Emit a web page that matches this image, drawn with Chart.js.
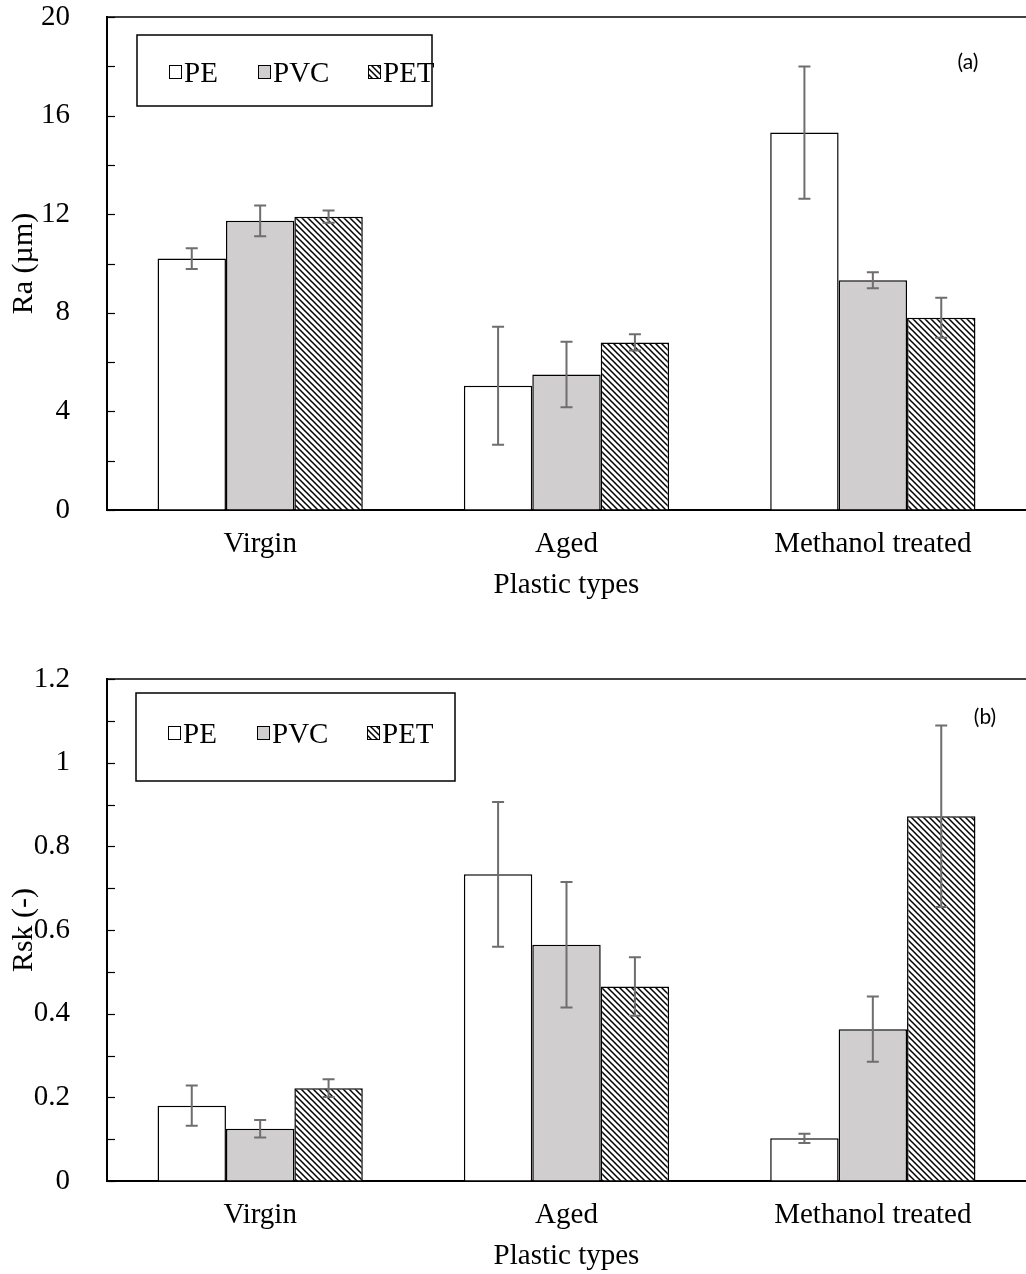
<!doctype html>
<html lang="en">
<head>
<meta charset="UTF-8">
<title>Ra and Rsk by plastic type</title>
<script src="https://cdn.jsdelivr.net/npm/chart.js"></script>
<style>
  html, body { margin: 0; background: #fff; overflow: hidden; }
  .wrap { position: absolute; left: 0; width: 1026px; }
  #top { top: 0; height: 605px; }
  #bottom { top: 662px; height: 614px; }
</style>
</head>
<body>
<div class="wrap" id="top"><canvas id="raChart"></canvas></div>
<div class="wrap" id="bottom"><canvas id="rskChart"></canvas></div>
<script>
  const categories = ['Virgin', 'Aged', 'Methanol treated'];
  const seriesNames = ['PE', 'PVC', 'PET'];

  // (a) Ra, µm
  const raPE = [10.2, 5.04, 15.31];
  const raPEErr = [0.42, 2.39, 2.68];
  const raPVC = [11.73, 5.5, 9.32];
  const raPVCErr = [0.62, 1.33, 0.32];
  const raPET = [11.9, 6.8, 7.8];
  const raPETErr = [0.25, 0.33, 0.81];

  // (b) Rsk, -
  const rskPE = [0.18, 0.733, 0.102];
  const rskPEErr = [0.048, 0.173, 0.011];
  const rskPVC = [0.125, 0.565, 0.363];
  const rskPVCErr = [0.021, 0.15, 0.078];
  const rskPET = [0.222, 0.465, 0.872];
  const rskPETErr = [0.021, 0.07, 0.217];

  const serif = "'Liberation Serif', 'Times New Roman', serif";

  function makeHatch() {
    const c = document.createElement('canvas');
    c.width = 6;
    c.height = 6;
    const g = c.getContext('2d');
    g.fillStyle = '#fff';
    g.fillRect(0, 0, 6, 6);
    g.strokeStyle = '#000';
    g.lineWidth = 1.5;
    g.beginPath();
    g.moveTo(-1, -1); g.lineTo(7, 7);
    g.moveTo(-1, 5); g.lineTo(1, 7);
    g.moveTo(5, -1); g.lineTo(7, 1);
    g.stroke();
    return g.createPattern(c, 'repeat');
  }

  const fills = ['#ffffff', '#d0cece', makeHatch()];

  // error bars, top frame line, inner minor ticks, boxed legend, panel tag
  const extras = {
    id: 'extras',
    afterDatasetsDraw(chart, args, opts) {
      const ctx = chart.ctx;
      const y = chart.scales.y;
      ctx.save();
      ctx.strokeStyle = '#6e6e6e';
      ctx.lineWidth = 2;
      opts.errors.forEach((errs, di) => {
        const meta = chart.getDatasetMeta(di);
        meta.data.forEach((bar, i) => {
          const v = chart.data.datasets[di].data[i];
          const hi = y.getPixelForValue(v + errs[i]);
          const lo = y.getPixelForValue(v - errs[i]);
          ctx.beginPath();
          ctx.moveTo(bar.x, hi); ctx.lineTo(bar.x, lo);
          ctx.moveTo(bar.x - 6, hi); ctx.lineTo(bar.x + 6, hi);
          ctx.moveTo(bar.x - 6, lo); ctx.lineTo(bar.x + 6, lo);
          ctx.stroke();
        });
      });
      ctx.restore();
    },
    afterDraw(chart, args, opts) {
      const ctx = chart.ctx;
      const area = chart.chartArea;
      const y = chart.scales.y;
      ctx.save();
      ctx.strokeStyle = '#000';
      ctx.lineWidth = 1.5;
      ctx.beginPath();
      ctx.moveTo(area.left, area.top);
      ctx.lineTo(area.right, area.top);
      ctx.stroke();

      ctx.lineWidth = 1.2;
      for (let k = 0; k * opts.minorStep <= y.max + 1e-9; k++) {
        const py = Math.round(y.getPixelForValue(k * opts.minorStep)) + 0.5;
        ctx.beginPath();
        ctx.moveTo(area.left, py);
        ctx.lineTo(area.left + 8, py);
        ctx.stroke();
      }

      const lg = opts.legend;
      const bx = lg.left, by = area.top + lg.top;
      ctx.lineWidth = 1.5;
      ctx.strokeRect(bx, by, lg.width, lg.height);
      const cy = area.top + lg.itemY;
      ctx.font = '29px ' + serif;
      ctx.textBaseline = 'alphabetic';
      chart.data.datasets.forEach((ds, i) => {
        const sx = bx + lg.items[i];
        ctx.fillStyle = ds.backgroundColor;
        ctx.fillRect(sx, cy - 6.5, 13, 13);
        ctx.lineWidth = 1;
        ctx.strokeRect(sx + 0.5, cy - 6.5, 12, 13);
        ctx.fillStyle = '#000';
        ctx.fillText(ds.label, sx + 15, cy + 10);
      });

      ctx.font = "21px Lato, 'Open Sans', sans-serif";
      ctx.textAlign = 'center';
      ctx.textBaseline = 'middle';
      ctx.fillText(opts.panel, area.right - opts.panelDx, area.top + opts.panelDy);
      ctx.restore();
    }
  };

  function buildChart(id, cfg) {
    return new Chart(document.getElementById(id), {
      type: 'bar',
      data: {
        labels: categories,
        datasets: cfg.values.map((vals, i) => ({
          label: seriesNames[i],
          data: vals,
          backgroundColor: fills[i],
          borderColor: '#000',
          borderWidth: 1.5,
          categoryPercentage: 0.67,
          barPercentage: 1.0
        }))
      },
      options: {
        responsive: true,
        maintainAspectRatio: false,
        animation: false,
        layout: { padding: { top: 17, right: 0, bottom: 0, left: 0 } },
        plugins: {
          legend: { display: false },
          tooltip: { enabled: false },
          extras: cfg.extras
        },
        scales: {
          x: {
            afterFit: (s) => { s.height = 95; },
            grid: { drawOnChartArea: false, drawTicks: false },
            border: { color: '#000', width: 2 },
            ticks: { padding: 17, color: '#000', font: { family: serif, size: 29 } },
            title: {
              display: true, text: 'Plastic types', color: '#000',
              font: { family: serif, size: 29 }, padding: { top: 6, bottom: 2 }
            }
          },
          y: {
            min: 0,
            max: cfg.max,
            afterFit: (s) => { s.width = 107; s.paddingTop = 0; s.paddingBottom = 0; },
            grid: { drawOnChartArea: false, drawTicks: false },
            border: { color: '#000', width: 2 },
            ticks: {
              stepSize: cfg.step, padding: 37, color: '#000',
              font: { family: serif, size: 29 },
              callback: (v) => String(parseFloat(v.toFixed(2)))
            },
            title: {
              display: true, text: cfg.yTitle, color: '#000',
              font: { family: serif, size: 30 }, padding: { top: 6, bottom: 0 }
            }
          }
        }
      },
      plugins: [extras]
    });
  }

  buildChart('raChart', {
    values: [raPE, raPVC, raPET],
    max: 20,
    step: 4,
    yTitle: 'Ra (µm)',
    extras: {
      errors: [raPEErr, raPVCErr, raPETErr],
      minorStep: 2,
      legend: { left: 137, top: 18, width: 295, height: 71, itemY: 55, items: [32, 121, 231] },
      panel: '(a)',
      panelDx: 58,
      panelDy: 45
    }
  });

  buildChart('rskChart', {
    values: [rskPE, rskPVC, rskPET],
    max: 1.2,
    step: 0.2,
    yTitle: 'Rsk (-)',
    extras: {
      errors: [rskPEErr, rskPVCErr, rskPETErr],
      minorStep: 0.1,
      legend: { left: 136, top: 14, width: 319, height: 88, itemY: 54, items: [32, 121, 231] },
      panel: '(b)',
      panelDx: 41,
      panelDy: 38
    }
  });
</script>
</body>
</html>
